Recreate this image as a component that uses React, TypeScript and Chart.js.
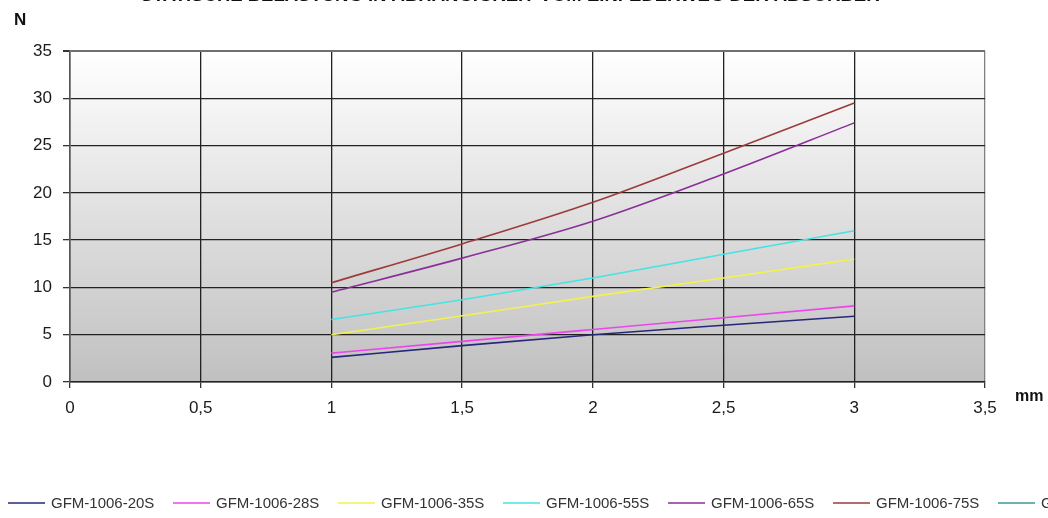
import React, { useEffect, useRef } from "react";
import { Chart, registerables } from "chart.js";

Chart.register(...registerables);

const deflection = [1, 1.5, 2, 2.5, 3];
const s20 = [2.6, 3.85, 5.0, 6.0, 6.95];
const s28 = [3.05, 4.3, 5.55, 6.8, 8.05];
const s35 = [5.0, 7.0, 9.05, 11.0, 13.0];
const s55 = [6.6, 8.7, 11.0, 13.5, 16.0];
const s65 = [9.5, 13.1, 17.0, 22.0, 27.4];
const s75 = [10.5, 14.6, 19.0, 24.2, 29.5];
const s90: number[] = [];

const seriesNames = [
  "GFM-1006-20S",
  "GFM-1006-28S",
  "GFM-1006-35S",
  "GFM-1006-55S",
  "GFM-1006-65S",
  "GFM-1006-75S",
  "GFM-1006-90S",
];
const seriesValues = [s20, s28, s35, s55, s65, s75, s90];
const seriesColors = ["#27277a", "#ee44ee", "#f2f24e", "#44e4e4", "#8a2f98", "#9c3b3b", "#3a9898"];

const titleText = "STATISCHE BELASTUNG IN ABHÄNGIGKEIT VOM EINFEDERWEG DER ABSORBER";
const yUnit = "N";
const xUnit = "mm";

const FONT = "Arial, 'Liberation Sans', sans-serif";

const decorPlugin = {
  id: "decor",
  beforeDraw(chart: any) {
    const { ctx, chartArea } = chart;
    const g = ctx.createLinearGradient(0, chartArea.top, 0, chartArea.bottom);
    g.addColorStop(0, "#ffffff");
    g.addColorStop(1, "#c0c0c0");
    ctx.save();
    ctx.fillStyle = g;
    ctx.fillRect(chartArea.left, chartArea.top, chartArea.right - chartArea.left, chartArea.bottom - chartArea.top);
    ctx.restore();
  },
  afterDraw(chart: any) {
    const { ctx, chartArea } = chart;
    ctx.save();
    // clipped title
    ctx.fillStyle = "#111";
    ctx.font = `bold 18.5px ${FONT}`;
    ctx.textAlign = "center";
    ctx.textBaseline = "alphabetic";
    ctx.fillText(titleText, 510, 1);
    // units
    ctx.font = `bold 17px ${FONT}`;
    ctx.textAlign = "left";
    ctx.textBaseline = "middle";
    ctx.fillText(yUnit, 14, 20);
    ctx.font = `bold 16px ${FONT}`;
    ctx.fillText(xUnit, chartArea.right + 30, 397);
    // legend
    ctx.font = `15px ${FONT}`;
    chart.data.datasets.forEach((ds: any, i: number) => {
      const x0 = 8 + i * 165;
      const y = 503;
      ctx.strokeStyle = ds.borderColor;
      ctx.lineWidth = 1.5;
      ctx.beginPath();
      ctx.moveTo(x0, y);
      ctx.lineTo(x0 + 37, y);
      ctx.stroke();
      ctx.fillStyle = "#333";
      ctx.fillText(ds.label, x0 + 43, y + 1);
    });
    ctx.restore();
  },
};

export default function App() {
  const ref = useRef<HTMLCanvasElement>(null);
  useEffect(() => {
    if (!ref.current) return;
    const chart = new Chart(ref.current, {
      type: "line",
      data: {
        datasets: seriesNames.map((name, i) => ({
          label: name,
          data: seriesValues[i].map((v, j) => ({ x: deflection[j], y: v })),
          borderColor: seriesColors[i],
          backgroundColor: seriesColors[i],
          borderWidth: 1.6,
          pointRadius: 0,
          cubicInterpolationMode: "monotone" as const,
          fill: false,
        })),
      },
      options: {
        animation: false,
        responsive: false,
        maintainAspectRatio: false,
        layout: { padding: { left: 0, top: 51, right: 63, bottom: 0 } },
        plugins: { legend: { display: false }, tooltip: { enabled: false }, title: { display: false } },
        scales: {
          x: {
            type: "linear",
            min: 0,
            max: 3.5,
            ticks: {
              stepSize: 0.5,
              padding: 10,
              color: "#1a1a1a",
              font: { family: FONT, size: 17 },
              callback: (v: any) => String(v).replace(".", ","),
            },
            grid: {
              color: (c: any) => (c.tick && c.tick.value === 3.5 ? "#808080" : "#222"),
              lineWidth: 1.3,
              tickLength: 6,
              tickColor: "#333",
            },
            border: { color: "#222", width: 1.5 },
            afterFit: (s: any) => {
              s.height = 136;
            },
          },
          y: {
            min: 0,
            max: 35,
            ticks: {
              stepSize: 5,
              padding: 11,
              color: "#1a1a1a",
              font: { family: FONT, size: 17 },
            },
            grid: {
              color: (c: any) => (c.tick && c.tick.value === 35 ? "#707070" : "#222"),
              lineWidth: (c: any) => (c.tick && c.tick.value === 35 ? 2 : 1.3),
              tickLength: 7,
              tickColor: "#333",
            },
            border: { color: "#555", width: 1.5 },
            afterFit: (s: any) => {
              s.width = 70;
            },
          },
        },
      },
      plugins: [decorPlugin],
    });
    return () => chart.destroy();
  }, []);
  return (
    <div style={{ position: "fixed", left: 0, top: 0, width: 1048, height: 518, background: "#fff" }}>
      <canvas ref={ref} width={1048} height={518} style={{ display: "block" }} />
    </div>
  );
}
